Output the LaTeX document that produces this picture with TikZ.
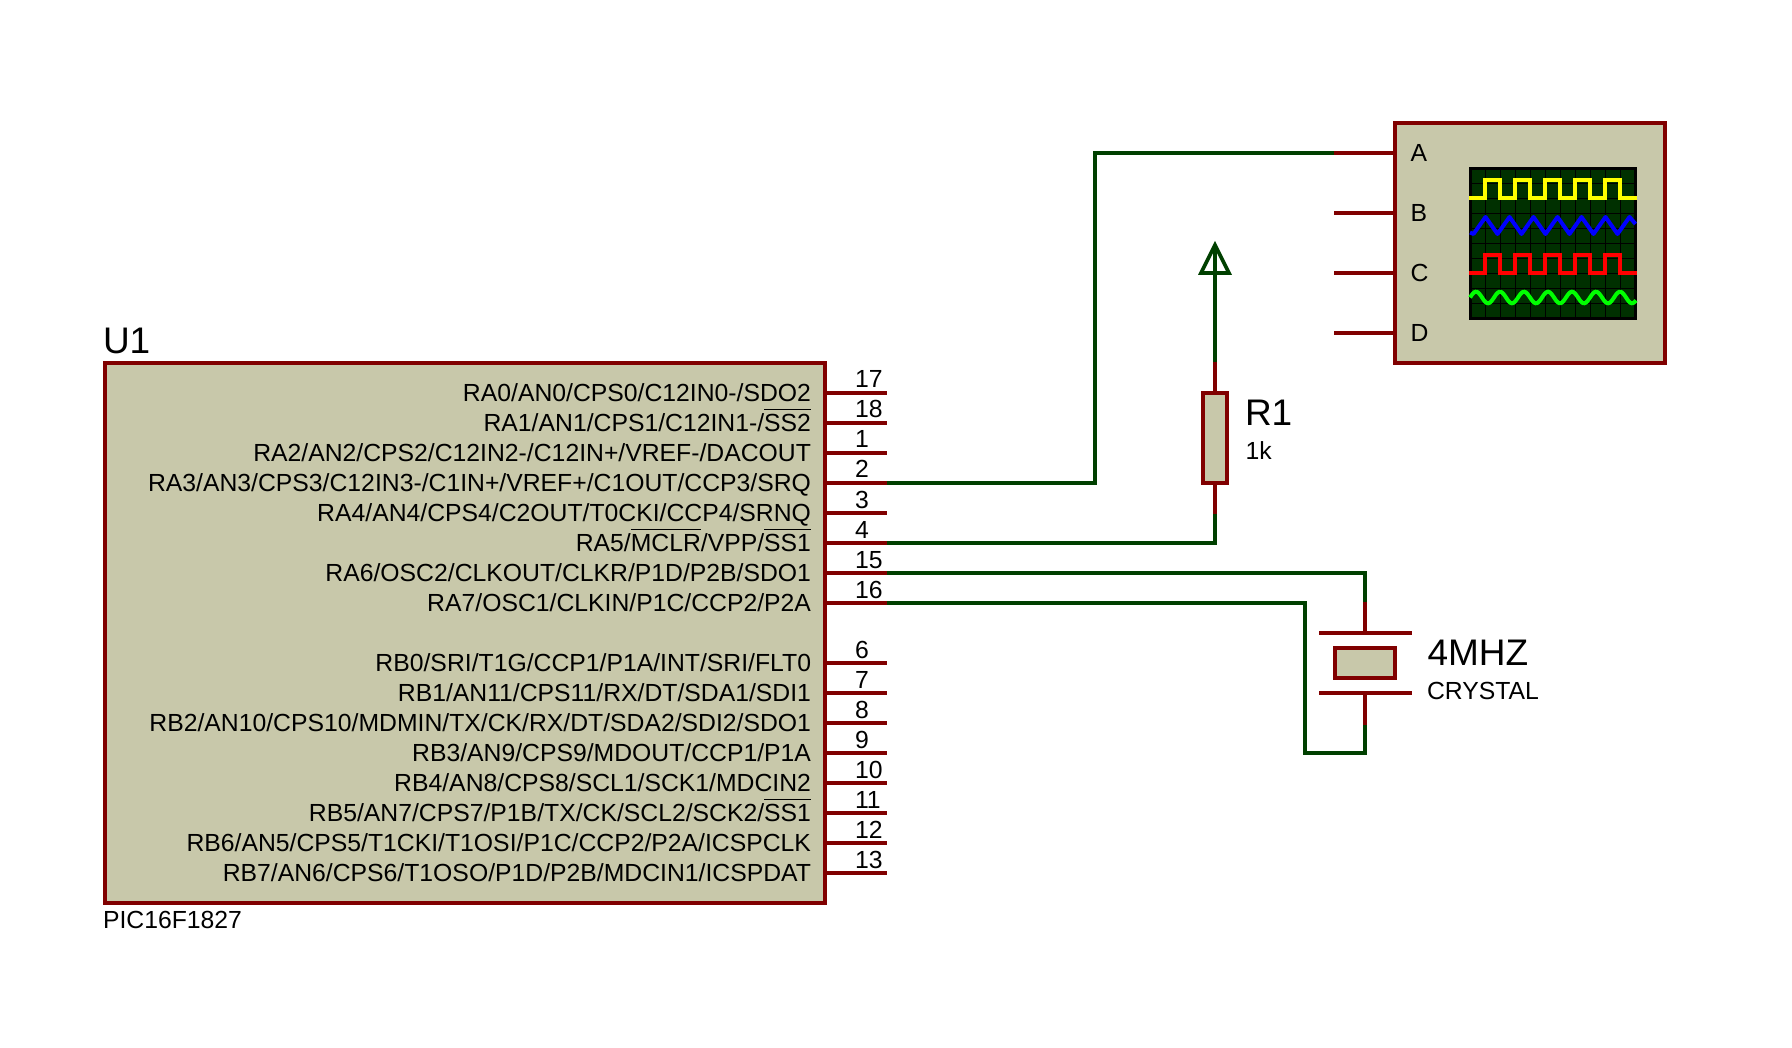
\documentclass[tikz,border=0pt]{standalone}
\usepackage{fontspec}
\setmainfont{Liberation Sans}
\usepackage{xcolor}
\definecolor{Pin}{RGB}{128,0,0}
\definecolor{Wire}{RGB}{0,64,0}
\definecolor{Body}{RGB}{200,200,170}
\definecolor{Screen}{RGB}{0,48,0}
\definecolor{Yellow}{RGB}{255,255,0}
\definecolor{Blue}{RGB}{0,0,255}
\definecolor{Red}{RGB}{255,0,0}
\definecolor{Green}{RGB}{0,255,0}
\newcommand{\barred}[1]{\setbox0=\hbox{#1}\rlap{\rule[21.5pt]{\wd0}{1pt}}\box0}
\tikzset{
	body/.style={draw=Pin, fill=Body, line width=3.7pt, inner sep=0pt, outer sep=0pt},
	pin/.style={draw=Pin, line width=3.7pt},
	wire/.style={draw=Wire, line width=3.7pt},
	trace/.style={line width=4pt},
	gridline/.style={draw=black, line width=1.2pt},
	small/.style={inner sep=0pt, outer sep=0pt, font=\fontsize{24.75}{24.75}\selectfont},
	big/.style={inner sep=0pt, outer sep=0pt, font=\fontsize{37}{37}\selectfont},
	pinname/.style={small, anchor=base east},
	pinnum/.style={small, anchor=base west},
	label/.style={small, anchor=base west}
}

\begin{document}
\begin{tikzpicture}[x=1pt, y=-1pt]
		\useasboundingbox (0,0) rectangle (1792,1048);
		
		% Chip
		\node[body, minimum width=720pt, minimum height=540pt] (U1) at (465,633) {};
		\node[big, anchor=base west] (U1ref) at (103,354) {U1};
		\node[label] (U1val) at (103,928.5) {PIC16F1827};
		
		% Chip pins
		\coordinate (p17) at (887,393);
		\coordinate (p18) at (887,423);
		\coordinate (p1) at (887,453);
		\coordinate (p2) at (887,483);
		\coordinate (p3) at (887,513);
		\coordinate (p4) at (887,543);
		\coordinate (p15) at (887,573);
		\coordinate (p16) at (887,603);
		\coordinate (p6) at (887,663);
		\coordinate (p7) at (887,693);
		\coordinate (p8) at (887,723);
		\coordinate (p9) at (887,753);
		\coordinate (p10) at (887,783);
		\coordinate (p11) at (887,813);
		\coordinate (p12) at (887,843);
		\coordinate (p13) at (887,873);
		\draw[pin] (U1.east |- p17) -- (p17);
		\draw[pin] (U1.east |- p18) -- (p18);
		\draw[pin] (U1.east |- p1) -- (p1);
		\draw[pin] (U1.east |- p2) -- (p2);
		\draw[pin] (U1.east |- p3) -- (p3);
		\draw[pin] (U1.east |- p4) -- (p4);
		\draw[pin] (U1.east |- p15) -- (p15);
		\draw[pin] (U1.east |- p16) -- (p16);
		\draw[pin] (U1.east |- p6) -- (p6);
		\draw[pin] (U1.east |- p7) -- (p7);
		\draw[pin] (U1.east |- p8) -- (p8);
		\draw[pin] (U1.east |- p9) -- (p9);
		\draw[pin] (U1.east |- p10) -- (p10);
		\draw[pin] (U1.east |- p11) -- (p11);
		\draw[pin] (U1.east |- p12) -- (p12);
		\draw[pin] (U1.east |- p13) -- (p13);
		
		% Pin names
		\node[pinname] (nRA0) at (811,401.8) {RA0/AN0/CPS0/C12IN0-/SDO2};
		\node[pinname] (nRA1) at (811,431.8) {RA1/AN1/CPS1/C12IN1-/\barred{SS2}};
		\node[pinname] (nRA2) at (811,461.8) {RA2/AN2/CPS2/C12IN2-/C12IN+/VREF-/DACOUT};
		\node[pinname] (nRA3) at (811,491.8) {RA3/AN3/CPS3/C12IN3-/C1IN+/VREF+/C1OUT/CCP3/SRQ};
		\node[pinname] (nRA4) at (811,521.8) {RA4/AN4/CPS4/C2OUT/T0CKI/CCP4/SRNQ};
		\node[pinname] (nRA5) at (811,551.8) {RA5/\barred{MCLR}/VPP/\barred{SS1}};
		\node[pinname] (nRA6) at (811,581.8) {RA6/OSC2/CLKOUT/CLKR/P1D/P2B/SDO1};
		\node[pinname] (nRA7) at (811,611.8) {RA7/OSC1/CLKIN/P1C/CCP2/P2A};
		\node[pinname] (nRB0) at (811,671.8) {RB0/SRI/T1G/CCP1/P1A/INT/SRI/FLT0};
		\node[pinname] (nRB1) at (811,701.8) {RB1/AN11/CPS11/RX/DT/SDA1/SDI1};
		\node[pinname] (nRB2) at (811,731.8) {RB2/AN10/CPS10/MDMIN/TX/CK/RX/DT/SDA2/SDI2/SDO1};
		\node[pinname] (nRB3) at (811,761.8) {RB3/AN9/CPS9/MDOUT/CCP1/P1A};
		\node[pinname] (nRB4) at (811,791.8) {RB4/AN8/CPS8/SCL1/SCK1/MDCIN2};
		\node[pinname] (nRB5) at (811,821.8) {RB5/AN7/CPS7/P1B/TX/CK/SCL2/SCK2/\barred{SS1}};
		\node[pinname] (nRB6) at (811,851.8) {RB6/AN5/CPS5/T1CKI/T1OSI/P1C/CCP2/P2A/ICSPCLK};
		\node[pinname] (nRB7) at (811,881.8) {RB7/AN6/CPS6/T1OSO/P1D/P2B/MDCIN1/ICSPDAT};
		
		% Pin numbers
		\node[pinnum] (n17) at (855,388) {17};
		\node[pinnum] (n18) at (855,418) {18};
		\node[pinnum] (n1) at (855,448) {1};
		\node[pinnum] (n2) at (855,478) {2};
		\node[pinnum] (n3) at (855,508) {3};
		\node[pinnum] (n4) at (855,538) {4};
		\node[pinnum] (n15) at (855,568) {15};
		\node[pinnum] (n16) at (855,598) {16};
		\node[pinnum] (n6) at (855,658) {6};
		\node[pinnum] (n7) at (855,688) {7};
		\node[pinnum] (n8) at (855,718) {8};
		\node[pinnum] (n9) at (855,748) {9};
		\node[pinnum] (n10) at (855,778) {10};
		\node[pinnum] (n11) at (855,808) {11};
		\node[pinnum] (n12) at (855,838) {12};
		\node[pinnum] (n13) at (855,868) {13};
		
		% Scope
		\node[body, minimum width=270pt, minimum height=240pt] (scope) at (1530,243) {};
		\coordinate (scA) at (1334,153);
		\coordinate (scB) at (1334,213);
		\coordinate (scC) at (1334,273);
		\coordinate (scD) at (1334,333);
		\draw[pin] (scA) -- (scope.west |- scA);
		\draw[pin] (scB) -- (scope.west |- scB);
		\draw[pin] (scC) -- (scope.west |- scC);
		\draw[pin] (scD) -- (scope.west |- scD);
		\node[label] (lA) at (1410.5,161.7) {A};
		\node[label] (lB) at (1410.5,221.7) {B};
		\node[label] (lC) at (1410.5,281.7) {C};
		\node[label] (lD) at (1410.5,341.7) {D};
		
		% Screen
		\node[draw=black, fill=Screen, line width=3.2pt, minimum width=165pt, minimum height=150pt, inner sep=0pt, outer sep=0pt] (screen) at (1553,243.5) {};
		\draw[gridline] (1485.5,168.5) -- (1485.5,318.5);
		\draw[gridline] (1500.5,168.5) -- (1500.5,318.5);
		\draw[gridline] (1515.5,168.5) -- (1515.5,318.5);
		\draw[gridline] (1530.5,168.5) -- (1530.5,318.5);
		\draw[gridline] (1545.5,168.5) -- (1545.5,318.5);
		\draw[gridline] (1560.5,168.5) -- (1560.5,318.5);
		\draw[gridline] (1575.5,168.5) -- (1575.5,318.5);
		\draw[gridline] (1590.5,168.5) -- (1590.5,318.5);
		\draw[gridline] (1605.5,168.5) -- (1605.5,318.5);
		\draw[gridline] (1620.5,168.5) -- (1620.5,318.5);
		\draw[gridline] (1470.5,183.5) -- (1635.5,183.5);
		\draw[gridline] (1470.5,198.5) -- (1635.5,198.5);
		\draw[gridline] (1470.5,213.5) -- (1635.5,213.5);
		\draw[gridline] (1470.5,228.5) -- (1635.5,228.5);
		\draw[gridline] (1470.5,243.5) -- (1635.5,243.5);
		\draw[gridline] (1470.5,258.5) -- (1635.5,258.5);
		\draw[gridline] (1470.5,273.5) -- (1635.5,273.5);
		\draw[gridline] (1470.5,288.5) -- (1635.5,288.5);
		\draw[gridline] (1470.5,303.5) -- (1635.5,303.5);
		
		% Traces
		\draw[trace, draw=Yellow] (1469,198) -- (1485,198) -- (1485,180) -- (1500,180) -- (1500,198) -- (1515,198) -- (1515,180) -- (1530,180) -- (1530,198) -- (1545,198) -- (1545,180) -- (1560,180) -- (1560,198) -- (1575,198) -- (1575,180) -- (1590,180) -- (1590,198) -- (1605,198) -- (1605,180) -- (1620,180) -- (1620,198) -- (1637,198);
		\draw[trace, draw=Blue, line join=round] (1470,232.5) -- (1473.5,234) -- (1485.5,217) -- (1497.5,234) -- (1509.5,217) -- (1521.5,234) -- (1533.5,217) -- (1545.5,234) -- (1557.5,217) -- (1569.5,234) -- (1581.5,217) -- (1593.5,234) -- (1605.5,217) -- (1617.5,234) -- (1629.5,217) -- (1635.5,224);
		\draw[trace, draw=Red] (1469,273) -- (1485,273) -- (1485,255) -- (1500,255) -- (1500,273) -- (1515,273) -- (1515,255) -- (1530,255) -- (1530,273) -- (1545,273) -- (1545,255) -- (1560,255) -- (1560,273) -- (1575,273) -- (1575,255) -- (1590,255) -- (1590,273) -- (1605,273) -- (1605,255) -- (1620,255) -- (1620,273) -- (1637,273);
		\draw[trace, draw=Green] plot[domain=1470:1636, samples=120] (\x,{297.5-5.8*cos((\x-1476)*15)});
		
		% Resistor
		\node[body, minimum width=24pt, minimum height=90pt] (R1) at (1215,438) {};
		\coordinate (r1top) at (1215,362);
		\coordinate (r1bot) at (1215,514);
		\coordinate (tip) at (1215,245);
		\coordinate (tipL) at (1201,273);
		\coordinate (tipR) at (1229,273);
		\draw[pin] (R1.north) -- (r1top);
		\draw[pin] (R1.south) -- (r1bot);
		\draw[wire] (r1top) -- (tip);
		\draw[wire] (tipL) -- (tip) -- (tipR) -- cycle;
		\node[big, anchor=base west] (R1ref) at (1245,425.7) {R1};
		\node[label] (R1val) at (1245.5,459.3) {1k};
		
		% Crystal
		\node[body, minimum width=60pt, minimum height=30pt] (X1) at (1365,663) {};
		\coordinate (x1top) at (1365,602);
		\coordinate (x1bot) at (1365,725);
		\coordinate (plateT) at (1365,633);
		\coordinate (plateB) at (1365,693);
		\draw[pin] (1319,633) -- (1412,633);
		\draw[pin] (1319,693) -- (1412,693);
		\draw[pin] (x1top) -- (plateT);
		\draw[pin] (x1bot) -- (plateB);
		\node[big, anchor=base west] (X1ref) at (1427.5,665) {4MHZ};
		\node[label] (X1val) at (1427,699) {CRYSTAL};
		
		% Wires
		\coordinate (kneeA) at (1095,153);
		\coordinate (kneeX) at (1305,753);
		\coordinate (x1low) at (1365,753);
		\draw[wire] (p2) -| (kneeA) -- (scA);
		\draw[wire] (p4) -| (r1bot);
		\draw[wire] (p15) -| (x1top);
		\draw[wire] (p16) -| (kneeX) -- (x1low) -- (x1bot);
		
	\end{tikzpicture}
\end{document}
